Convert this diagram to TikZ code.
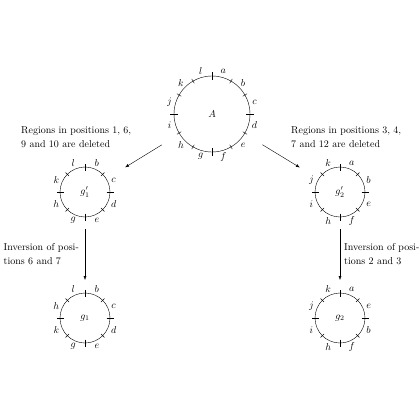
\documentclass[tikz,border=0pt]{standalone}
\usetikzlibrary{arrows.meta,calc}
\begin{document}
\begin{tikzpicture}[x=1pt,y=1pt,
  ring/.style={circle,draw,line width=0.4pt,inner sep=0pt,outer sep=0pt,minimum size=#1},
  flow/.style={-{Latex[length=4pt,width=3pt]},line width=0.4pt},
  note/.style={anchor=north west,align=left,inner sep=0pt,font={\fontsize{10}{13.8}\selectfont}}]
\useasboundingbox (0,0) rectangle (420,-420);
% circles
\node[ring=76pt] (A) at (212,-114) {$A$};
\node[ring=50pt] (g1p) at (85,-192) {$g_1'$};
\node[ring=50pt] (g2p) at (340,-192) {$g_2'$};
\node[ring=50pt] (g1) at (85,-318) {$g_1$};
\node[ring=50pt] (g2) at (340,-318) {$g_2$};
% ticks on A
\foreach \a in {0,90,180,270} \draw (A.center) ++(\a:34pt) -- ++(\a:8pt);
\foreach \a in {30,60,120,150,210,240,300,330} \draw (A.center) ++(\a:35.5pt) -- ++(\a:5pt);
\foreach \a/\t in {75/a,45/b,15/c,-15/d,-45/e,-75/f,-105/g,-135/h,-165/i,165/j,135/k,105/l}
  \node[inner sep=0pt] at ($(A.center)+(\a:44pt)$) {$\t$};
% ticks on small circles
\foreach \n in {g1p,g2p,g1,g2}{
  \foreach \a in {0,90,180,270} \draw (\n.center) ++(\a:21.5pt) -- ++(\a:7pt);
  \foreach \a in {45,135,225,315} \draw (\n.center) ++(\a:22.5pt) -- ++(\a:5pt);
}
\foreach \a/\t in {112.5/l,67.5/b,22.5/c,-22.5/d,-67.5/e,-112.5/g,-157.5/h,157.5/k}
  \node[inner sep=0pt] at ($(g1p.center)+(\a:31pt)$) {$\t$};
\foreach \a/\t in {112.5/k,67.5/a,22.5/b,-22.5/e,-67.5/f,-112.5/h,-157.5/i,157.5/j}
  \node[inner sep=0pt] at ($(g2p.center)+(\a:31pt)$) {$\t$};
\foreach \a/\t in {112.5/l,67.5/b,22.5/c,-22.5/d,-67.5/e,-112.5/g,-157.5/k,157.5/h}
  \node[inner sep=0pt] at ($(g1.center)+(\a:31pt)$) {$\t$};
\foreach \a/\t in {112.5/k,67.5/a,22.5/e,-22.5/b,-67.5/f,-112.5/h,-157.5/i,157.5/j}
  \node[inner sep=0pt] at ($(g2.center)+(\a:31pt)$) {$\t$};
% arrows
\draw[flow,shorten <=21pt,shorten >=22pt] (A) -- (g1p);
\draw[flow,shorten <=21pt,shorten >=22pt] (A) -- (g2p);
\draw[flow,shorten <=12pt,shorten >=13pt] (g1p) -- (g1);
\draw[flow,shorten <=12pt,shorten >=13pt] (g2p) -- (g2);
% notes
\node[note] (n1) at (21,-126.5) {Regions in positions 1, 6,\\9 and 10 are deleted};
\node[note] (n2) at (291,-126.5) {Regions in positions 3, 4,\\7 and 12 are deleted};
\node[note] (n3) at (3.5,-243) {Inversion of posi-\\tions 6 and 7};
\node[note] (n4) at (344,-243) {Inversion of posi-\\tions 2 and 3};
\end{tikzpicture}
\end{document}
